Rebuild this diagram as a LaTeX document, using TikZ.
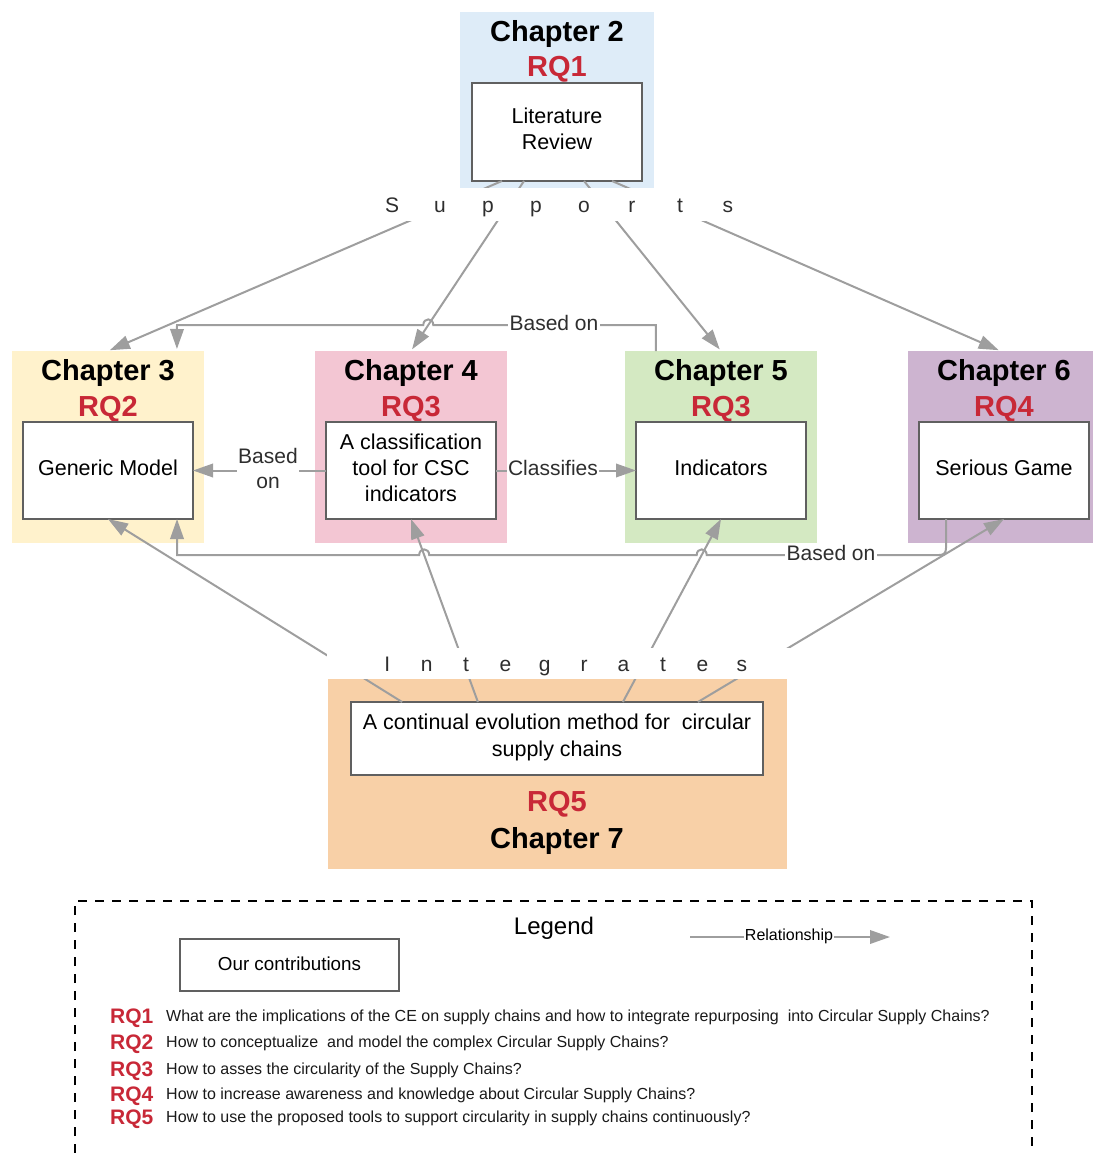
\documentclass[tikz,border=0pt]{standalone}
\usepackage{fontspec}
\setmainfont{Liberation Sans}
\usetikzlibrary{arrows.meta,calc}
\definecolor{bgblue}{RGB}{222,236,248}
\definecolor{bgyellow}{RGB}{255,242,204}
\definecolor{bgpink}{RGB}{243,198,211}
\definecolor{bggreen}{RGB}{212,233,194}
\definecolor{bgpurple}{RGB}{205,180,208}
\definecolor{bgorange}{RGB}{248,208,167}
\definecolor{rqred}{RGB}{200,40,55}
\definecolor{boxgray}{RGB}{96,96,96}
\definecolor{conngray}{RGB}{158,158,158}
\colorlet{txtgray}{black!82}
\begin{document}
\begin{tikzpicture}[x=1pt,y=-1pt,
  bgrect/.style={fill=#1, draw=none, inner sep=0pt, outer sep=0pt},
  contrib/.style={draw=boxgray, line width=2.4pt, fill=white, inner sep=0pt, outer sep=0pt, minimum width=170pt, minimum height=97pt},
  boxtxt/.style={inner sep=0pt, align=center, font=\fontsize{21.5}{26}\selectfont},
  chtitle/.style={inner sep=0pt, text depth=0pt, font=\fontsize{29}{34}\selectfont\bfseries},
  rqtitle/.style={chtitle, text=rqred},
  conn/.style={draw=conngray, line width=2pt, -{Triangle[length=20pt,width=13.5pt]}},
  lbl/.style={fill=white, inner sep=1.5pt, align=center, text=txtgray, font=\fontsize{21}{25}\selectfont},
  spaced/.style={text=txtgray, inner sep=0pt, text depth=0pt, font=\fontsize{21}{25}\selectfont},
  blank/.style={fill=white, draw=none, inner sep=0pt, outer sep=0pt},
  rqkey/.style={anchor=base west, inner sep=0pt, text=rqred, font=\fontsize{21}{25}\selectfont\bfseries},
  rqtext/.style={anchor=base west, inner sep=0pt, text=black!90, font=\fontsize{16}{19}\selectfont}
]
\useasboundingbox (0,0) rectangle (1093,1153);

% ---------- chapter backgrounds ----------
\node[bgrect=bgblue,   minimum width=194pt, minimum height=176pt] (ch2bg) at (557,100) {};
\node[bgrect=bgyellow, minimum width=192pt, minimum height=192pt] (ch3bg) at (108,447) {};
\node[bgrect=bgpink,   minimum width=192pt, minimum height=192pt] (ch4bg) at (411,447) {};
\node[bgrect=bggreen,  minimum width=192pt, minimum height=192pt] (ch5bg) at (721,447) {};
\node[bgrect=bgpurple, minimum width=185pt, minimum height=192pt] (ch6bg) at (1000.5,447) {};
\node[bgrect=bgorange, minimum width=459pt, minimum height=190pt] (ch7bg) at (557.5,774) {};

% ---------- titles ----------
\node[chtitle] (ch2t) at (557,31) {Chapter 2};
\node[rqtitle] (rq1t) at (557,66) {RQ1};
\node[chtitle] (ch3t) at (108,370) {Chapter 3};
\node[rqtitle] (rq2t) at (108,406) {RQ2};
\node[chtitle] (ch4t) at (411,370) {Chapter 4};
\node[rqtitle] (rq3at) at (411,406) {RQ3};
\node[chtitle] (ch5t) at (721,370) {Chapter 5};
\node[rqtitle] (rq3bt) at (721,406) {RQ3};
\node[chtitle] (ch6t) at (1004,370) {Chapter 6};
\node[rqtitle] (rq4t) at (1004,406) {RQ4};
\node[rqtitle] (rq5t) at (557,801) {RQ5};
\node[chtitle] (ch7t) at (557,838) {Chapter 7};

% ---------- contribution boxes ----------
\node[contrib, minimum height=98pt] (lit) at (557,132) {};
\node[boxtxt] (littxt) at ([yshift=3pt]lit.center) {Literature\\Review};
\node[contrib] (gm)  at (108,470.5) {};
\node[boxtxt] (gmtxt) at ([yshift=3pt]gm.center) {Generic Model};
\node[contrib] (cls) at (411,470.5) {};
\node[boxtxt] (clstxt) at ([yshift=3pt]cls.center) {A classification\\tool for CSC\\indicators};
\node[contrib] (ind) at (721,470.5) {};
\node[boxtxt] (indtxt) at ([yshift=3pt]ind.center) {Indicators};
\node[contrib] (sg)  at (1004,470.5) {};
\node[boxtxt] (sgtxt) at ([yshift=3pt]sg.center) {Serious Game};
\node[contrib, minimum width=412pt, minimum height=73pt] (cem) at (557,738.5) {};
\node[boxtxt, font=\fontsize{21.5}{27}\selectfont] (cemtxt) at ([yshift=1pt]cem.center) {A continual evolution method for\ \ circular\\supply chains};

% ---------- supports ----------
\draw[conn, shorten >=2pt] ($(lit.south west)!0.176!(lit.south east)$) -- (ch3bg.north);
\draw[conn, shorten >=2pt] ($(lit.south west)!0.306!(lit.south east)$) -- (ch4bg.north);
\draw[conn, shorten >=2pt] ($(lit.south west)!0.659!(lit.south east)$) -- (ch5bg.north);
\draw[conn, shorten >=2pt] ($(lit.south west)!0.824!(lit.south east)$) -- (ch6bg.north);

% ---------- integrates ----------
\draw[conn] ($(cem.north west)!0.124!(cem.north east)$) -- (gm.south);
\draw[conn] ($(cem.north west)!0.308!(cem.north east)$) -- (cls.south);
\draw[conn] ($(cem.north west)!0.660!(cem.north east)$) -- (ind.south);
\draw[conn] ($(cem.north west)!0.842!(cem.north east)$) -- (sg.south);

% ---------- based on (top) ----------
\draw[conn, shorten >=2pt] ($(ch5bg.north west)!0.161!(ch5bg.north east)$) |- (433.3,325)
  .. controls (433.3,317.5) and (423.3,317.5) .. (423.3,325)
  -- (177,325) -- ($(ch3bg.north west)!0.859!(ch3bg.north east)$);
\node[lbl] (based1) at (554,323) {Based on};

% ---------- based on / classifies (middle) ----------
\draw[conn] (cls.west) -- (gm.east);
\node[lbl] (based2) at (268,468) {Based\\on};
\draw[conn] (cls.east) -- (ind.west);
\node[lbl] (classif) at (553,468) {Classifies};

% ---------- based on (bottom) ----------
\draw[conn] ($(sg.south west)!0.159!(sg.south east)$) -- (946,548)
  .. controls (946,553) and (944,555) .. (939,555)
  -- (706.7,555) .. controls (706.7,547.5) and (696.7,547.5) .. (696.7,555)
  -- (429.2,555) .. controls (429.2,547.5) and (419.2,547.5) .. (419.2,555)
  -- (177,555) -- ($(gm.south west)!0.906!(gm.south east)$);
\node[lbl] (based3) at (831,553) {Based on};

% ---------- spaced labels ----------
\node[blank, minimum width=380pt, minimum height=33pt] (supbg) at (560,204.5) {};
\node[spaced] (sup) at (560,205) {\makebox[48pt]{S}\makebox[48pt]{u}\makebox[48pt]{p}\makebox[48pt]{p}\makebox[48pt]{o}\makebox[48pt]{r}\makebox[48pt]{t}\makebox[48pt]{s}};
\node[blank, minimum width=463pt, minimum height=31pt] (intbg) at (558.5,663.5) {};
\node[spaced] (intl) at (564.5,664) {\makebox[39.4pt]{I}\makebox[39.4pt]{n}\makebox[39.4pt]{t}\makebox[39.4pt]{e}\makebox[39.4pt]{g}\makebox[39.4pt]{r}\makebox[39.4pt]{a}\makebox[39.4pt]{t}\makebox[39.4pt]{e}\makebox[39.4pt]{s}};

% ---------- legend ----------
\draw[line width=2pt, dash pattern=on 9pt off 8pt] (75,1153) -- (75,901) -- (1032,901) -- (1032,1153);
\node[inner sep=0pt, text depth=0pt, font=\fontsize{24}{28}\selectfont] (legt) at (554,926) {Legend};
\node[contrib, minimum width=219pt, minimum height=52pt] (ours) at (289.5,965) {};
\node[boxtxt, font=\fontsize{18.8}{22}\selectfont] (ourstxt) at ([yshift=1pt]ours.center) {Our contributions};
\coordinate (relA) at (690,937);
\coordinate (relB) at (890,937);
\draw[conn] (relA) -- (relB);
\node[lbl, inner sep=1pt, text=black, font=\fontsize{16}{19}\selectfont] (relt) at (789,936) {Relationship};

\node[rqkey] (k1) at (110,1023) {RQ1};
\node[rqtext] (q1) at (166,1021) {What are the implications of the CE on supply chains and how to integrate repurposing\ \ into Circular Supply Chains?};
\node[rqkey] (k2) at (110,1049) {RQ2};
\node[rqtext] (q2) at (166,1047) {How to conceptualize\ \ and model the complex Circular Supply Chains?};
\node[rqkey] (k3) at (110,1076) {RQ3};
\node[rqtext] (q3) at (166,1074) {How to asses the circularity of the Supply Chains?};
\node[rqkey] (k4) at (110,1101) {RQ4};
\node[rqtext] (q4) at (166,1099) {How to increase awareness and knowledge about Circular Supply Chains?};
\node[rqkey] (k5) at (110,1124) {RQ5};
\node[rqtext] (q5) at (166,1122) {How to use the proposed tools to support circularity in supply chains continuously?};
\end{tikzpicture}
\end{document}
